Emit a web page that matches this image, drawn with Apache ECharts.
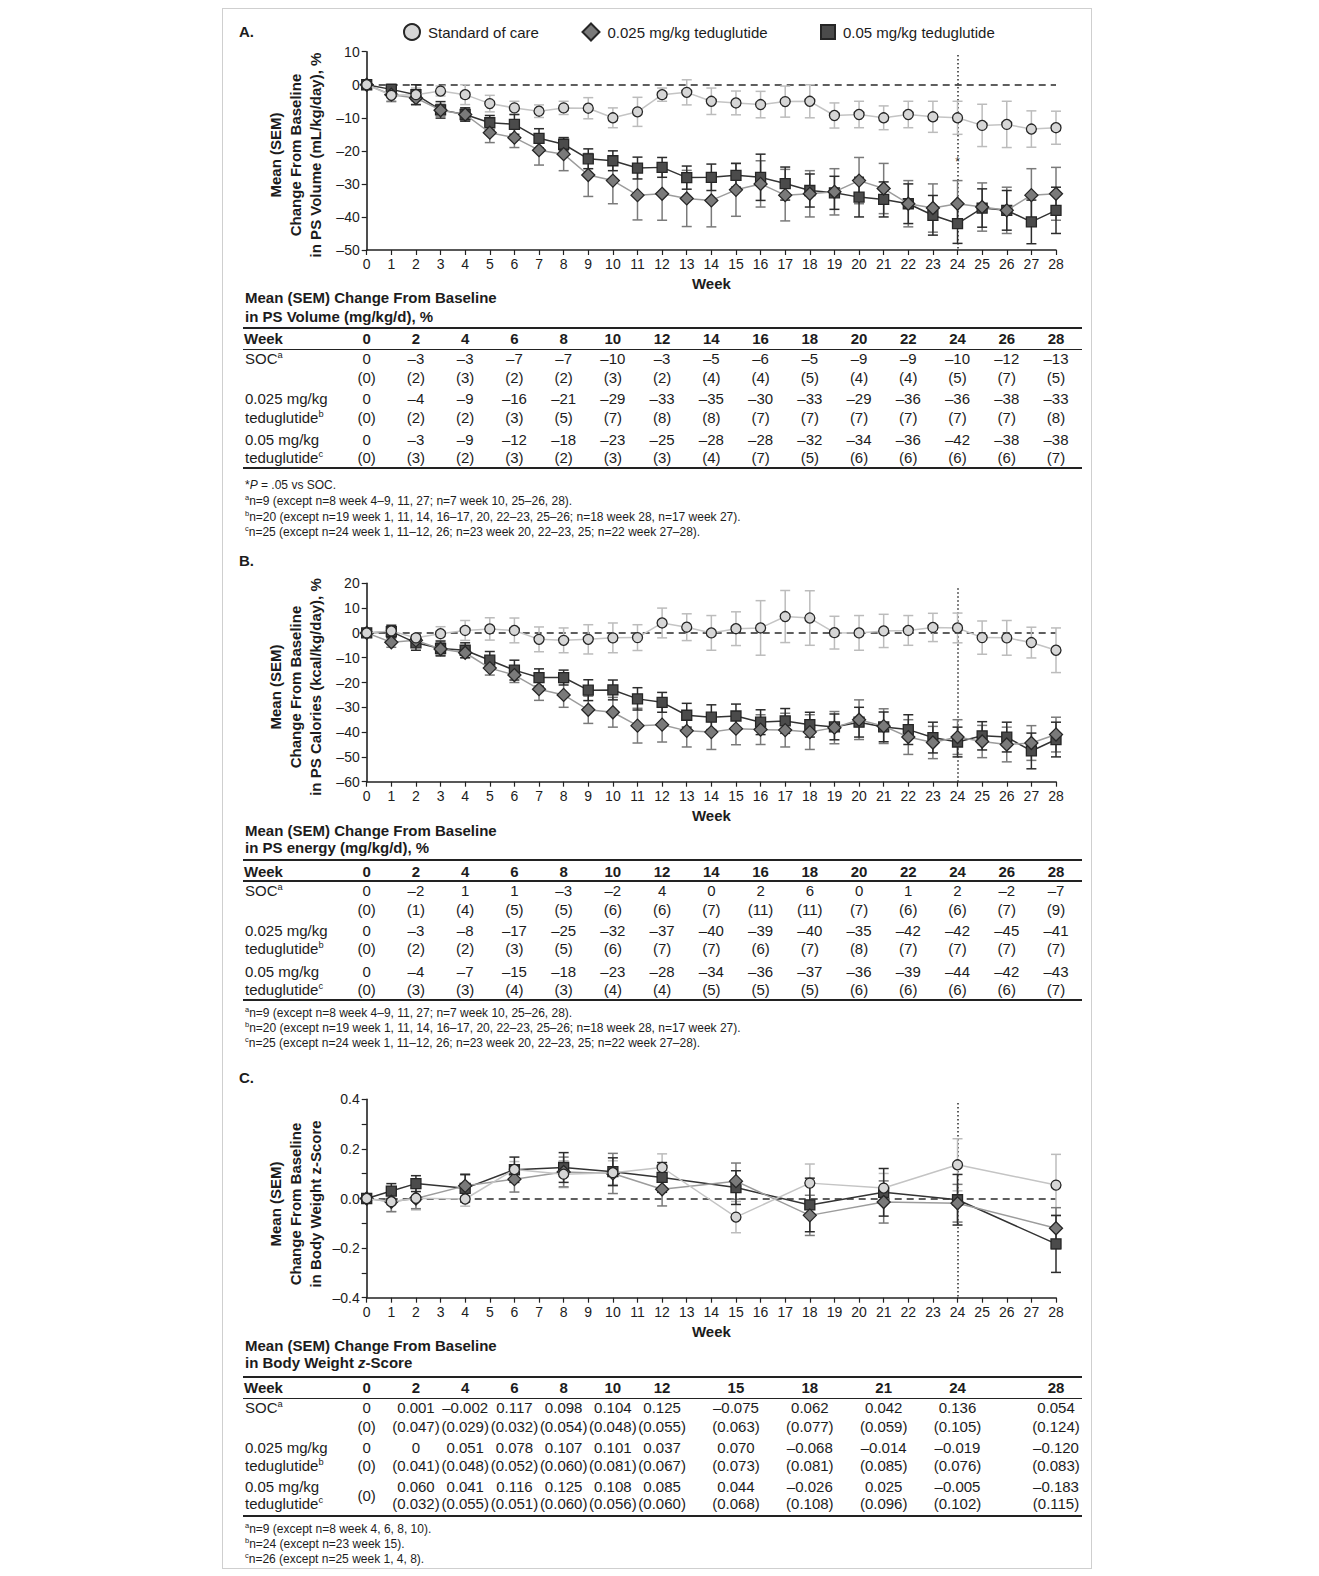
<!DOCTYPE html>
<html>
<head>
<meta charset="utf-8">
<title>Change from baseline by week</title>
<script src="https://cdn.jsdelivr.net/npm/echarts@6/dist/echarts.min.js"></script>
<style>
  html, body { margin: 0; padding: 0; background: #fff; }
  #wrap { position: relative; width: 1319px; height: 1576px; font-family: "Liberation Sans", Arial, Helvetica, sans-serif; color: #1c1c1c; }
  #chart { position: absolute; left: 0; top: 0; width: 1319px; height: 1576px; }
  #overlay { position: absolute; left: 0; top: 0; width: 1319px; height: 1576px; pointer-events: none; }
  .t { position: absolute; white-space: nowrap; font-size: 15px; line-height: 18px; }
  .c { transform: translateX(-50%); }
  .b { font-weight: bold; }
  .fn { font-size: 12px; line-height: 14px; }
  .rule { position: absolute; background: #222; }
  sup { font-size: 62%; vertical-align: super; line-height: 0; }
  #frame { position: absolute; left: 222px; top: 8px; width: 870px; height: 1561px; border: 1px solid #cfcfcf; box-sizing: border-box; }
</style>
</head>
<body>
<div id="wrap">
  <div id="frame"></div>
  <div id="chart"></div>
  <div id="overlay"></div>
</div>
<script>
// ---- weeks ----
const weeksAB = [0,1,2,3,4,5,6,7,8,9,10,11,12,13,14,15,16,17,18,19,20,21,22,23,24,25,26,27,28];
const weeksC = [0,1,2,4,6,8,10,12,15,18,21,24,28];
const tableWeeksAB = [0,2,4,6,8,10,12,14,16,18,20,22,24,26,28];
const tableWeeksC = [0,2,4,6,8,10,12,15,18,21,24,28];

// ---- A: PS volume, % change (mean, SEM) ----
const socA      = [0,-3.2,-3,-1.9,-3,-5.7,-7,-8.0,-7,-7.1,-10,-8.2,-3,-2.3,-5,-5.5,-6,-5.1,-5,-9.3,-9,-10.0,-9,-9.7,-10,-12.3,-12,-13.4,-13];
const socASem   = [0,2,2,1.5,3,2.5,2,1.9,2,3.2,3,4.4,2,3.8,4,3.6,4,4.7,5,3.8,4,3.6,4,4.7,5,6.4,7,5.5,5];
const lowA      = [0,-3,-4,-7.7,-9,-14.5,-16,-19.8,-21,-27.3,-29,-33.4,-33,-34.4,-35,-31.8,-30,-33.4,-33,-32.4,-29,-31.4,-36,-37.3,-36,-37.0,-38,-33.4,-33];
const lowASem   = [0,2,2,1.8,2,3,3,4.5,5,6.5,7,7.5,8,8.5,8,8,7,7.8,7,7,7,7.6,7,7.3,7,7.3,7,8,8];
const highA     = [0,-1.4,-3,-7.6,-9,-11.5,-12,-16.2,-18,-22.4,-23,-25.2,-25,-28.1,-28,-27.4,-28,-29.9,-32,-32.7,-34,-34.7,-36,-39.5,-42,-37.3,-38,-41.5,-38];
const highASem  = [0,1.5,3,2.5,2,2.2,3,2.9,2,3,3,3.3,3,3.5,4,3.6,7,5,5,5,6,5.3,6,6,6,5.8,6,6.6,7];

// ---- B: PS calories, % change (mean, SEM) ----
const socB      = [0,0.8,-2,-0.3,1,1.6,1,-2.6,-3,-2.6,-2,-1.9,4,2.3,0,1.7,2,6.6,6,0.1,0,0.8,1,2.2,2,-1.9,-2,-3.9,-7];
const socBSem   = [0,2.5,1,2.8,4,4.5,5,5,5,5.9,6,5.2,6,5.4,7,6.8,11,10.5,11,6.6,7,6.7,6,5.7,6,6.7,7,6.2,9];
const lowB      = [0,-3.8,-3,-6.5,-8,-14.2,-17,-22.7,-25,-31.0,-32,-37.4,-37,-39.5,-40,-38.6,-39,-39.2,-40,-38.2,-35,-37.6,-42,-44.2,-42,-43.8,-45,-44.4,-41];
const lowBSem   = [0,2,2,2.5,2,2.8,3,4.5,5,5.5,6,7,7,6.5,7,6.5,6,6.8,7,6.5,8,7,7,6.5,7,6.5,7,7,7];
const highB     = [0,0.5,-4,-6.3,-7,-11.0,-15,-18.0,-18,-23.1,-23,-26.6,-28,-33.2,-34,-33.5,-36,-35.5,-37,-37.9,-36,-37.9,-39,-42.2,-44,-41.5,-42,-47.6,-43];
const highBSem  = [0,2.5,3,3,3,3.5,4,3.5,3,4.2,4,4.5,4,4.8,5,4.8,5,5,5,5.2,6,6,6,6.2,6,5.7,6,7.2,7];

// ---- C: body weight z-score change (mean, SEM) ----
const socC      = [0,-0.013,0.001,-0.002,0.117,0.098,0.104,0.125,-0.075,0.062,0.042,0.136,0.054];
const socCSem   = [0,0.04,0.047,0.029,0.032,0.054,0.048,0.055,0.063,0.077,0.059,0.105,0.124];
const lowC      = [0,-0.013,0,0.051,0.078,0.107,0.101,0.037,0.070,-0.068,-0.014,-0.019,-0.120];
const lowCSem   = [0,0.04,0.041,0.048,0.052,0.060,0.081,0.067,0.073,0.081,0.085,0.076,0.083];
const highC     = [0,0.03,0.060,0.041,0.116,0.125,0.108,0.085,0.044,-0.026,0.025,-0.005,-0.183];
const highCSem  = [0,0.03,0.032,0.055,0.051,0.060,0.056,0.060,0.068,0.108,0.096,0.102,0.115];

const FONT = '"Liberation Sans", Arial, Helvetica, sans-serif';
const INK = '#1c1c1c';

const STYLE = {
  soc:  { name: 'Standard of care',        symbol: 'circle',  size: 10, line: '#c4c4c4', fill: '#d6d6d6', err: '#bcbcbc' },
  low:  { name: '0.025 mg/kg teduglutide', symbol: 'diamond', size: 13, line: '#9c9c9c', fill: '#7a7a7a', err: '#7a7a7a' },
  high: { name: '0.05 mg/kg teduglutide',  symbol: 'rect',    size: 10, line: '#333333', fill: '#4b4b4b', err: '#2c2c2c' }
};

const panels = [
  { grid: { top: 51.7, height: 198.3 }, yMin: -50, yMax: 10, yInt: 10, dotTop: 9,
    xs: weeksAB, soc: [socA, socASem], low: [lowA, lowASem], high: [highA, highASem],
    yTitle: ['Mean (SEM)', 'Change From Baseline', 'in PS Volume (mL/kg/day), %'], titleCy: 155,
    label: 'A.', labelX: 239, labelY: 31 },
  { grid: { top: 583.3, height: 198.4 }, yMin: -60, yMax: 20, yInt: 10, dotTop: 18,
    xs: weeksAB, soc: [socB, socBSem], low: [lowB, lowBSem], high: [highB, highBSem],
    yTitle: ['Mean (SEM)', 'Change From Baseline', 'in PS Calories (kcal/kg/day), %'], titleCy: 687,
    label: 'B.', labelX: 239, labelY: 560 },
  { grid: { top: 1099.3, height: 198.4 }, yMin: -0.4, yMax: 0.4, yInt: 0.1, dotTop: 0.385,
    xs: weeksC, soc: [socC, socCSem], low: [lowC, lowCSem], high: [highC, highCSem],
    yTitle: ['Mean (SEM)', 'Change From Baseline', 'in Body Weight z-Score'], titleCy: 1204,
    label: 'C.', labelX: 239, labelY: 1077 }
];

function dash(n) { return n < 0 ? '\u2013' + Math.abs(n) : String(n); }

function errRender(color) {
  return function (params, api) {
    const x = api.value(0), m = api.value(1), e = api.value(2);
    if (!e) return null;
    const top = api.coord([x, m + e]);
    const bot = api.coord([x, m - e]);
    const hw = 5;
    const st = { stroke: color, lineWidth: 1.5 };
    return { type: 'group', children: [
      { type: 'line', shape: { x1: top[0], y1: top[1], x2: bot[0], y2: bot[1] }, style: st },
      { type: 'line', shape: { x1: top[0] - hw, y1: top[1], x2: top[0] + hw, y2: top[1] }, style: st },
      { type: 'line', shape: { x1: bot[0] - hw, y1: bot[1], x2: bot[0] + hw, y2: bot[1] }, style: st }
    ]};
  };
}

const grids = [], xAxes = [], yAxes = [], series = [], graphics = [];

panels.forEach((p, i) => {
  grids.push({ left: 366.7, width: 689.3, top: p.grid.top, height: p.grid.height, outerBoundsMode: 'none', containLabel: false });
  xAxes.push({
    gridIndex: i, type: 'value', min: 0, max: 28, interval: 1,
    axisLine: { onZero: false, lineStyle: { color: '#222', width: 1.5 } },
    axisTick: { length: 5, lineStyle: { color: '#222', width: 1.2 } },
    axisLabel: { fontSize: 14, color: INK, margin: 7, fontFamily: FONT, hideOverlap: false },
    splitLine: { show: false },
    name: 'Week', nameLocation: 'middle', nameGap: 26,
    nameTextStyle: { fontWeight: 'bold', fontSize: 15, color: INK, fontFamily: FONT }
  });
  const isC = i === 2;
  yAxes.push({
    gridIndex: i, type: 'value', min: p.yMin, max: p.yMax, interval: p.yInt,
    axisLine: { show: true, onZero: false, lineStyle: { color: '#222', width: 1.6 } },
    axisTick: { show: true, length: 5, lineStyle: { color: '#222', width: 1.2 } },
    axisLabel: {
      fontSize: 14, color: INK, margin: 7, fontFamily: FONT, hideOverlap: false,
      formatter: isC
        ? function (v) { const k = Math.round(v * 10); if (k % 2 !== 0) return ''; return (k < 0 ? '\u2013' : '') + (Math.abs(k) / 10).toFixed(1); }
        : function (v) { return dash(Math.round(v)); }
    },
    splitLine: { show: false }
  });

  // error bars
  ['soc', 'low', 'high'].forEach(k => {
    const [m, e] = p[k];
    series.push({
      type: 'custom', name: k + '-sem-' + i, xAxisIndex: i, yAxisIndex: i, silent: true, z: 2,
      renderItem: errRender(STYLE[k].err),
      encode: { x: 0, y: 1 },
      data: m.map((v, j) => [p.xs[j], v, e[j]])
    });
  });

  // mean lines with markers
  [['high', 3], ['low', 4], ['soc', 5]].forEach(([k, z]) => {
    const s = STYLE[k];
    const [m] = p[k];
    const ser = {
      type: 'line', name: s.name, xAxisIndex: i, yAxisIndex: i, z: z,
      data: m.map((v, j) => [p.xs[j], v]),
      symbol: s.symbol, symbolSize: s.size, showSymbol: true, showAllSymbol: true,
      lineStyle: { color: s.line, width: 1.5 },
      itemStyle: { color: s.fill, borderColor: '#262626', borderWidth: 1.3 },
      emphasis: { disabled: true }, silent: true
    };
    if (k === 'soc') {
      ser.markLine = {
        silent: true, symbol: ['none', 'none'], label: { show: false }, z: 1,
        data: [
          { yAxis: 0, lineStyle: { type: [7, 5], color: '#2a2a2a', width: 1.5 } },
          [ { coord: [24, p.dotTop], lineStyle: { type: [1.5, 2.5], color: '#2a2a2a', width: 1.5 } },
            { coord: [24, p.yMin] } ]
        ]
      };
    }
    if (k === 'high' && i === 0) {
      ser.markPoint = {
        silent: true, symbol: 'circle', symbolSize: 1,
        itemStyle: { color: 'rgba(0,0,0,0)' },
        label: { show: true, formatter: '*', position: 'inside', fontSize: 12, color: '#333', fontFamily: FONT },
        data: [ { coord: [24, -23.5] } ]
      };
    }
    series.push(ser);
  });

  // axis title (three rotated lines) and panel letter
  [275, 295, 315].forEach((x, li) => {
    graphics.push({
      type: 'text', x: x, y: p.titleCy, rotation: Math.PI / 2, silent: true,
      style: { text: p.yTitle[li], fontSize: 15, fontWeight: 'bold', fontFamily: FONT, fill: INK, align: 'center', verticalAlign: 'middle' }
    });
  });
  graphics.push({
    type: 'text', x: p.labelX, y: p.labelY, silent: true,
    style: { text: p.label, fontSize: 15, fontWeight: 'bold', fontFamily: FONT, fill: INK, align: 'left', verticalAlign: 'middle' }
  });
});

function legendItem(left, name, icon, size) {
  return {
    left: left, top: 31 - size / 2, orient: 'horizontal', selectedMode: false, padding: 0,
    itemWidth: size, itemHeight: size,
    textStyle: { fontSize: 15, color: INK, fontFamily: FONT, padding: [0, 0, 0, 3] },
    data: [{ name: name, icon: icon }]
  };
}

const chart = echarts.init(document.getElementById('chart'), null, { renderer: 'svg', width: 1319, height: 1576 });
chart.setOption({
  animation: false,
  backgroundColor: 'transparent',
  textStyle: { fontFamily: FONT },
  legend: [
    legendItem(403, STYLE.soc.name, 'circle', 16),
    legendItem(581.5, STYLE.low.name, 'diamond', 17),
    legendItem(820, STYLE.high.name, 'rect', 14)
  ],
  grid: grids, xAxis: xAxes, yAxis: yAxes, series: series, graphic: graphics
});

// ---- summary tables under each panel ----
const overlay = document.getElementById('overlay');
function put(html, x, cy, cls, lh) {
  const d = document.createElement('div');
  d.className = 't ' + (cls || '');
  d.style.left = x + 'px';
  d.style.top = (cy - (lh || 18) / 2) + 'px';
  d.innerHTML = html;
  overlay.appendChild(d);
}
function rule(y, h) {
  const d = document.createElement('div');
  d.className = 'rule';
  d.style.left = '243px';
  d.style.width = (1082 - 243) + 'px';
  d.style.top = (y - h / 2) + 'px';
  d.style.height = h + 'px';
  overlay.appendChild(d);
}
const fmtInt = v => dash(Math.round(v));
const semInt = s => '(' + Math.round(s) + ')';
const fmtDec = v => v === 0 ? '0' : (v < 0 ? '\u2013' : '') + Math.abs(v).toFixed(3);
const semDec = s => s === 0 ? '(0)' : '(' + s.toFixed(3) + ')';

const notesAB = [
  '<sup>a</sup>n=9 (except n=8 week 4\u20139, 11, 27; n=7 week 10, 25\u201326, 28).',
  '<sup>b</sup>n=20 (except n=19 week 1, 11, 14, 16\u201317, 20, 22\u201323, 25\u201326; n=18 week 28, n=17 week 27).',
  '<sup>c</sup>n=25 (except n=24 week 1, 11\u201312, 26; n=23 week 20, 22\u201323, 25; n=22 week 27\u201328).'
];

const tables = [
  { axis: 0, weeks: tableWeeksAB, xs: weeksAB, fmt: fmtInt, sem: semInt,
    title: ['Mean (SEM) Change From Baseline', 'in PS Volume (mg/kg/d), %'],
    rows: [[socA, socASem], [lowA, lowASem], [highA, highASem]],
    y: { t: [298, 316.7], top: 327.7, head: 339.3, hr: 349.3, rows: [[359, 377.7], [399.3, 417.7], [440, 458.3]], bottom: 468.3 },
    notes: [[485, '*<i>P</i> = .05 vs SOC.'], [501, notesAB[0]], [516.7, notesAB[1]], [531.7, notesAB[2]]] },
  { axis: 1, weeks: tableWeeksAB, xs: weeksAB, fmt: fmtInt, sem: semInt,
    title: ['Mean (SEM) Change From Baseline', 'in PS energy (mg/kg/d), %'],
    rows: [[socB, socBSem], [lowB, lowBSem], [highB, highBSem]],
    y: { t: [831, 848.3], top: 860, head: 871.7, hr: 881, rows: [[891, 910], [931, 949.3], [971.7, 990]], bottom: 1000 },
    notes: [[1013.3, notesAB[0]], [1028.3, notesAB[1]], [1043.3, notesAB[2]]] },
  { axis: 2, weeks: tableWeeksC, xs: weeksC, fmt: fmtDec, sem: semDec, mergeBaseline: 2,
    title: ['Mean (SEM) Change From Baseline', 'in Body Weight <i>z</i>-Score'],
    rows: [[socC, socCSem], [lowC, lowCSem], [highC, highCSem]],
    y: { t: [1346, 1363.3], top: 1376.7, head: 1388.3, hr: 1398.3, rows: [[1407.7, 1426.7], [1447.7, 1466], [1486.7, 1504.3]], bottom: 1516 },
    notes: [[1529, '<sup>a</sup>n=9 (except n=8 week 4, 6, 8, 10).'], [1544, '<sup>b</sup>n=24 (except n=23 week 15).'], [1559, '<sup>c</sup>n=26 (except n=25 week 1, 4, 8).']] }
];
const rowLabels = [
  ['SOC<sup>a</sup>', ''],
  ['0.025 mg/kg', 'teduglutide<sup>b</sup>'],
  ['0.05 mg/kg', 'teduglutide<sup>c</sup>']
];

tables.forEach(tb => {
  put(tb.title[0], 245, tb.y.t[0], 'b');
  put(tb.title[1], 245, tb.y.t[1], 'b');
  rule(tb.y.top, 2);
  put('Week', 244, tb.y.head, 'b');
  rule(tb.y.hr, 1.5);
  rule(tb.y.bottom, 2);
  tb.weeks.forEach(w => {
    const x = chart.convertToPixel({ xAxisIndex: tb.axis }, w);
    put(String(w), x, tb.y.head, 'b c');
    const j = tb.xs.indexOf(w);
    tb.rows.forEach((r, ri) => {
      const [cm, cs] = tb.y.rows[ri];
      if (tb.mergeBaseline === ri && w === 0) {
        put(tb.sem(r[1][j]), x, (cm + cs) / 2, 'c');
      } else {
        put(tb.fmt(r[0][j]), x, cm, 'c');
        put(tb.sem(r[1][j]), x, cs, 'c');
      }
    });
  });
  tb.rows.forEach((r, ri) => {
    put(rowLabels[ri][0], 245, tb.y.rows[ri][0]);
    if (rowLabels[ri][1]) put(rowLabels[ri][1], 245, tb.y.rows[ri][1]);
  });
  tb.notes.forEach(([y, txt]) => put(txt, 245, y, 'fn', 14));
});
</script>
</body>
</html>
